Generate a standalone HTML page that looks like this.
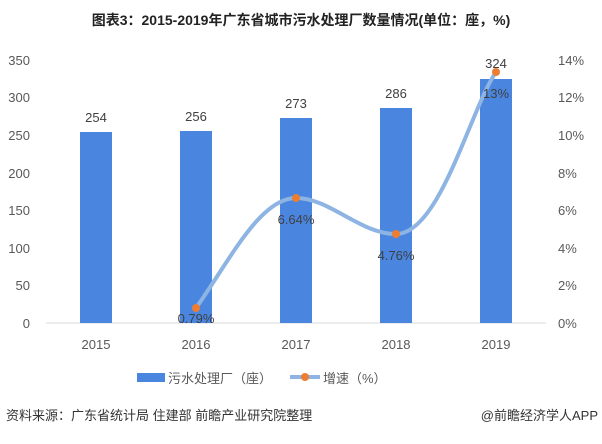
<!DOCTYPE html>
<html><head><meta charset="utf-8"><style>
body{margin:0;background:#fff;font-family:"Liberation Sans","Noto Sans CJK SC",sans-serif;}
</style></head><body>
<svg width="602" height="439" xmlns="http://www.w3.org/2000/svg" font-family="Liberation Sans, Noto Sans CJK SC, sans-serif">
<text x="301" y="25" text-anchor="middle" font-size="14" font-weight="bold" fill="#222">图表3：2015-2019年广东省城市污水处理厂数量情况(单位：座，%)</text>
<g font-size="13" fill="#595959" text-anchor="end">
<text x="30" y="328">0</text><text x="30" y="290">50</text><text x="30" y="253">100</text><text x="30" y="215">150</text><text x="30" y="178">200</text><text x="30" y="140">250</text><text x="30" y="102">300</text><text x="30" y="65">350</text>
</g>
<g font-size="13" fill="#595959" text-anchor="start">
<text x="558" y="328">0%</text><text x="558" y="290">2%</text><text x="558" y="253">4%</text><text x="558" y="215">6%</text><text x="558" y="178">8%</text><text x="558" y="140">10%</text><text x="558" y="102">12%</text><text x="558" y="65">14%</text>
</g>
<line x1="46" y1="323" x2="546" y2="323" stroke="#d9d9d9"/>
<g fill="#4a86e0">
<rect x="80" y="132" width="32" height="191"/>
<rect x="180" y="131" width="32" height="192"/>
<rect x="280" y="118" width="32" height="205"/>
<rect x="380" y="108" width="32" height="215"/>
<rect x="480" y="79" width="32" height="244"/>
</g>
<g font-size="13" fill="#404040" text-anchor="middle">
<text x="96" y="122">254</text><text x="196" y="121">256</text><text x="296" y="108">273</text><text x="396" y="98">286</text><text x="496" y="68">324</text>
</g>
<path d="M196,308 C230,260 260,198 296,198 C330,198 360,234 396,234 C440,234 470,110 496,72" fill="none" stroke="#8db4e2" stroke-width="4" stroke-linecap="round"/>
<g fill="#ed7d31"><circle cx="196" cy="308" r="4"/><circle cx="296" cy="198" r="4"/><circle cx="396" cy="234" r="4"/><circle cx="496" cy="72" r="4"/></g>
<g font-size="13" fill="#404040" text-anchor="middle">
<text x="196" y="323">0.79%</text><text x="296" y="224">6.64%</text><text x="396" y="260">4.76%</text><text x="496" y="98">13%</text>
</g>
<g font-size="13" fill="#595959" text-anchor="middle">
<text x="96" y="349">2015</text><text x="196" y="349">2016</text><text x="296" y="349">2017</text><text x="396" y="349">2018</text><text x="496" y="349">2019</text>
</g>
<rect x="137" y="373" width="28" height="9" fill="#4a86e0"/>
<text x="168" y="383" font-size="13" fill="#595959">污水处理厂（座）</text>
<line x1="290" y1="377" x2="320" y2="377" stroke="#8db4e2" stroke-width="4"/>
<circle cx="305" cy="377" r="4" fill="#ed7d31"/>
<text x="323" y="383" font-size="13" fill="#595959">增速（%）</text>
<text x="6" y="420" font-size="13" fill="#333">资料来源：广东省统计局 住建部 前瞻产业研究院整理</text>
<text x="598" y="420" font-size="13" fill="#333" text-anchor="end">@前瞻经济学人APP</text>
</svg>
</body></html>
